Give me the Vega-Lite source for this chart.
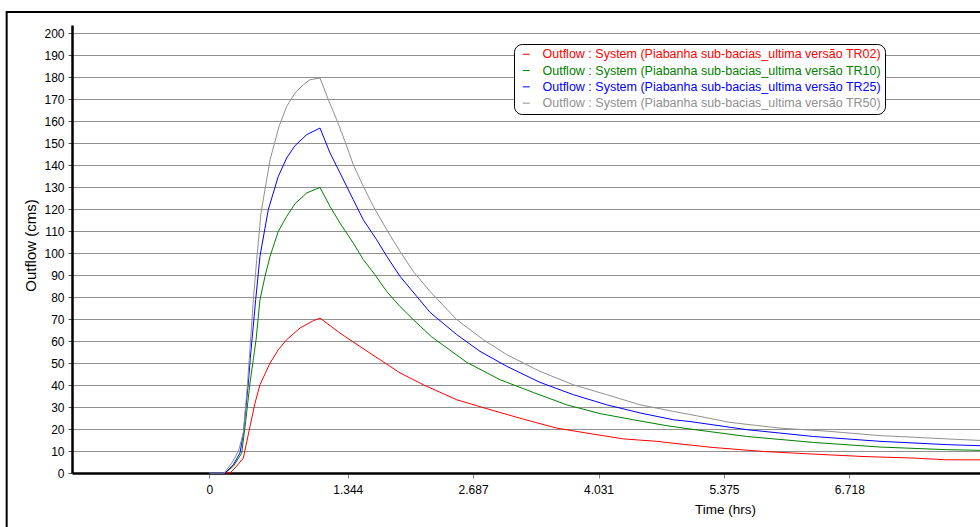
{
  "$schema": "https://vega.github.io/schema/vega-lite/v6.json",
  "width": 908,
  "height": 448,
  "autosize": {"type": "none"},
  "padding": {"left": 72, "top": 25, "right": 0, "bottom": 54},
  "background": "white",
  "config": {
    "font": "Liberation Sans",
    "view": {"stroke": null},
    "axis": {"labelFont": "Liberation Sans", "titleFont": "Liberation Sans", "labelColor": "#000", "titleColor": "#000", "titleFontWeight": "normal"}
  },
  "resolve": {"axis": {"x": "independent", "y": "independent"}},
  "datasets": {
    "flow": [
      {"s": "TR02", "t": -0.139, "q": 0}, {"s": "TR02", "t": 0.083, "q": 0}, {"s": "TR02", "t": 0.137, "q": 2.3}, {"s": "TR02", "t": 0.226, "q": 6.8},
      {"s": "TR02", "t": 0.297, "q": 21.2}, {"s": "TR02", "t": 0.351, "q": 31.8}, {"s": "TR02", "t": 0.404, "q": 40.1}, {"s": "TR02", "t": 0.512, "q": 50},
      {"s": "TR02", "t": 0.6, "q": 56}, {"s": "TR02", "t": 0.69, "q": 60.6}, {"s": "TR02", "t": 0.833, "q": 65.9}, {"s": "TR02", "t": 0.975, "q": 69.2},
      {"s": "TR02", "t": 1.047, "q": 70.4}, {"s": "TR02", "t": 1.261, "q": 63.6}, {"s": "TR02", "t": 1.583, "q": 54.5}, {"s": "TR02", "t": 1.904, "q": 45.5},
      {"s": "TR02", "t": 2.154, "q": 40.1}, {"s": "TR02", "t": 2.512, "q": 33.3}, {"s": "TR02", "t": 2.869, "q": 28.8}, {"s": "TR02", "t": 3.225, "q": 24.5},
      {"s": "TR02", "t": 3.583, "q": 20.4}, {"s": "TR02", "t": 3.94, "q": 17.9}, {"s": "TR02", "t": 4.297, "q": 15.5}, {"s": "TR02", "t": 4.654, "q": 14.4},
      {"s": "TR02", "t": 4.904, "q": 13.2}, {"s": "TR02", "t": 5.258, "q": 11.6}, {"s": "TR02", "t": 5.793, "q": 9.8}, {"s": "TR02", "t": 6.329, "q": 8.6},
      {"s": "TR02", "t": 6.865, "q": 7.5}, {"s": "TR02", "t": 7.4, "q": 6.8}, {"s": "TR02", "t": 7.761, "q": 6.0}, {"s": "TR02", "t": 8.118, "q": 6.0},

      {"s": "TR10", "t": -0.139, "q": 0}, {"s": "TR10", "t": 0.029, "q": 0}, {"s": "TR10", "t": 0.118, "q": 3}, {"s": "TR10", "t": 0.208, "q": 9},
      {"s": "TR10", "t": 0.244, "q": 21}, {"s": "TR10", "t": 0.297, "q": 40.9}, {"s": "TR10", "t": 0.362, "q": 60.6}, {"s": "TR10", "t": 0.404, "q": 78.8},
      {"s": "TR10", "t": 0.458, "q": 89.4}, {"s": "TR10", "t": 0.512, "q": 98.5}, {"s": "TR10", "t": 0.6, "q": 109.8}, {"s": "TR10", "t": 0.69, "q": 116.6},
      {"s": "TR10", "t": 0.779, "q": 122.4}, {"s": "TR10", "t": 0.905, "q": 127.3}, {"s": "TR10", "t": 1.047, "q": 129.8}, {"s": "TR10", "t": 1.154, "q": 121.2},
      {"s": "TR10", "t": 1.261, "q": 113.6}, {"s": "TR10", "t": 1.404, "q": 104.5}, {"s": "TR10", "t": 1.511, "q": 97}, {"s": "TR10", "t": 1.636, "q": 90.1},
      {"s": "TR10", "t": 1.762, "q": 82.5}, {"s": "TR10", "t": 1.904, "q": 75.7}, {"s": "TR10", "t": 2.047, "q": 69.7}, {"s": "TR10", "t": 2.24, "q": 62},
      {"s": "TR10", "t": 2.619, "q": 50.3},
      {"s": "TR10", "t": 2.976, "q": 42.4}, {"s": "TR10", "t": 3.332, "q": 36.6}, {"s": "TR10", "t": 3.69, "q": 31}, {"s": "TR10", "t": 4.047, "q": 27},
      {"s": "TR10", "t": 4.404, "q": 24.2}, {"s": "TR10", "t": 4.762, "q": 21.5}, {"s": "TR10", "t": 5.011, "q": 20}, {"s": "TR10", "t": 5.619, "q": 16.6},
      {"s": "TR10", "t": 6.332, "q": 13.9}, {"s": "TR10", "t": 7.046, "q": 11.8}, {"s": "TR10", "t": 7.761, "q": 10.6}, {"s": "TR10", "t": 8.118, "q": 10.3},

      {"s": "TR25", "t": -0.139, "q": 0}, {"s": "TR25", "t": 0.03, "q": 0}, {"s": "TR25", "t": 0.118, "q": 3.8}, {"s": "TR25", "t": 0.19, "q": 9.1},
      {"s": "TR25", "t": 0.226, "q": 18.2}, {"s": "TR25", "t": 0.279, "q": 40.9}, {"s": "TR25", "t": 0.3, "q": 52}, {"s": "TR25", "t": 0.358, "q": 78.8},
      {"s": "TR25", "t": 0.404, "q": 98.5}, {"s": "TR25", "t": 0.493, "q": 119.7}, {"s": "TR25", "t": 0.6, "q": 134.8}, {"s": "TR25", "t": 0.69, "q": 143.2},
      {"s": "TR25", "t": 0.779, "q": 148.8}, {"s": "TR25", "t": 0.905, "q": 153.8}, {"s": "TR25", "t": 1.047, "q": 156.8}, {"s": "TR25", "t": 1.154, "q": 145.5},
      {"s": "TR25", "t": 1.261, "q": 136.4}, {"s": "TR25", "t": 1.404, "q": 124.2}, {"s": "TR25", "t": 1.511, "q": 115.1}, {"s": "TR25", "t": 1.654, "q": 106},
      {"s": "TR25", "t": 1.762, "q": 98.5}, {"s": "TR25", "t": 1.904, "q": 89.4}, {"s": "TR25", "t": 2.083, "q": 80.3}, {"s": "TR25", "t": 2.226, "q": 73},
      {"s": "TR25", "t": 2.512, "q": 62.9},
      {"s": "TR25", "t": 2.761, "q": 55.3}, {"s": "TR25", "t": 3.048, "q": 48.5}, {"s": "TR25", "t": 3.404, "q": 41.2}, {"s": "TR25", "t": 3.761, "q": 35.6},
      {"s": "TR25", "t": 4.119, "q": 31}, {"s": "TR25", "t": 4.476, "q": 27.3}, {"s": "TR25", "t": 4.832, "q": 24.2}, {"s": "TR25", "t": 5.011, "q": 23.4},
      {"s": "TR25", "t": 5.619, "q": 19.7}, {"s": "TR25", "t": 6.332, "q": 16.6}, {"s": "TR25", "t": 7.046, "q": 14.4}, {"s": "TR25", "t": 7.761, "q": 12.9},
      {"s": "TR25", "t": 8.118, "q": 12.4},

      {"s": "TR50", "t": -0.139, "q": 0}, {"s": "TR50", "t": 0.02, "q": 0}, {"s": "TR50", "t": 0.101, "q": 4.5}, {"s": "TR50", "t": 0.172, "q": 9.8},
      {"s": "TR50", "t": 0.226, "q": 18.2}, {"s": "TR50", "t": 0.271, "q": 40.9}, {"s": "TR50", "t": 0.333, "q": 78.8}, {"s": "TR50", "t": 0.369, "q": 97},
      {"s": "TR50", "t": 0.415, "q": 118.2}, {"s": "TR50", "t": 0.512, "q": 142.4}, {"s": "TR50", "t": 0.608, "q": 157.5}, {"s": "TR50", "t": 0.69, "q": 166.6},
      {"s": "TR50", "t": 0.779, "q": 172.7}, {"s": "TR50", "t": 0.869, "q": 176.5}, {"s": "TR50", "t": 0.94, "q": 178.8}, {"s": "TR50", "t": 1.047, "q": 179.5},
      {"s": "TR50", "t": 1.136, "q": 169.7}, {"s": "TR50", "t": 1.226, "q": 160.6}, {"s": "TR50", "t": 1.315, "q": 150.7}, {"s": "TR50", "t": 1.404, "q": 140.1},
      {"s": "TR50", "t": 1.511, "q": 130.3}, {"s": "TR50", "t": 1.618, "q": 121.2}, {"s": "TR50", "t": 1.762, "q": 110.6}, {"s": "TR50", "t": 1.904, "q": 100.7},
      {"s": "TR50", "t": 2.047, "q": 91.6}, {"s": "TR50", "t": 2.226, "q": 82.5}, {"s": "TR50", "t": 2.512, "q": 69.7}, {"s": "TR50", "t": 2.797, "q": 60.6}, {"s": "TR50", "t": 3.048, "q": 53.8},
      {"s": "TR50", "t": 3.404, "q": 46.2}, {"s": "TR50", "t": 3.761, "q": 40.1}, {"s": "TR50", "t": 4.119, "q": 35.6}, {"s": "TR50", "t": 4.476, "q": 31},
      {"s": "TR50", "t": 4.832, "q": 28}, {"s": "TR50", "t": 5.011, "q": 26.6}, {"s": "TR50", "t": 5.44, "q": 23}, {"s": "TR50", "t": 5.975, "q": 20.4},
      {"s": "TR50", "t": 6.511, "q": 18.9}, {"s": "TR50", "t": 7.046, "q": 17}, {"s": "TR50", "t": 7.761, "q": 15.5}, {"s": "TR50", "t": 8.118, "q": 14.8}
    ]
  },
  "layer": [
    {
      "data": {"name": "flow"},
      "mark": {"type": "line", "strokeWidth": 1, "interpolate": "linear"},
      "encoding": {
        "x": {
          "field": "t", "type": "quantitative",
          "scale": {"domain": [-1.61, 8.118], "nice": false, "zero": false},
          "axis": {
            "title": "Time (hrs)",
            "values": [-0.139, 1.344, 2.687, 4.031, 5.375, 6.718],
            "labelExpr": "datum.value < 0 ? '0' : format(datum.value, '.3f')",
            "grid": false, "labelOverlap": false,
            "domainColor": "#000", "domainWidth": 2.5,
            "tickColor": "#888", "tickSize": 5, "tickWidth": 1,
            "labelFontSize": 12, "labelPadding": 6, "labelFlush": false,
            "titleFontSize": 13.5, "titleX": 653, "titleY": 36, "titleAlign": "center", "titleBaseline": "middle"
          }
        },
        "y": {
          "field": "q", "type": "quantitative",
          "scale": {"domain": [0, 203.6364], "nice": false},
          "axis": {
            "title": "Outflow (cms)",
            "values": [0, 10, 20, 30, 40, 50, 60, 70, 80, 90, 100, 110, 120, 130, 140, 150, 160, 170, 180, 190, 200],
            "tickCount": 21,
            "labelOverlap": false, "labelBound": false,
            "grid": true, "gridColor": "#222", "gridDash": [1, 1], "gridWidth": 1, "gridOpacity": 1,
            "domainColor": "#000", "domainWidth": 2.5,
            "tickColor": "#555", "tickSize": 4, "tickWidth": 1,
            "labelFontSize": 12, "labelPadding": 4,
            "titleFontSize": 15, "titleX": -42, "titleY": 220, "titleAlign": "center", "titleBaseline": "middle", "titleAngle": -90
          }
        },
        "color": {
          "field": "s", "type": "nominal",
          "scale": {"domain": ["TR02", "TR10", "TR25", "TR50"], "range": ["#ff0000", "#008000", "#0000ff", "#909090"]},
          "legend": {
            "title": null,
            "orient": "none", "legendX": 442, "legendY": 19,
            "labelExpr": "'Outflow : System (Piabanha sub-bacias_ultima versão ' + datum.label + ')'",
            "labelColor": {"expr": "scale('color', datum.value)"},
            "labelFont": "Liberation Sans", "labelFontSize": 12.5, "labelLimit": 500,
            "labelOffset": 10,
            "symbolType": "stroke", "symbolSize": 49, "symbolStrokeWidth": 1, "symbolOffset": 2,
            "rowPadding": 3.3,
            "padding": 4,
            "fillColor": "white", "strokeColor": "#000", "cornerRadius": 8
          }
        }
      }
    },
    {
      "data": {"values": [{"frame": 1}]},
      "mark": {"type": "rect", "filled": false, "stroke": "#000", "strokeWidth": 2, "clip": false},
      "encoding": {
        "x": {"datum": -2.31, "type": "quantitative", "axis": null},
        "x2": {"datum": 12},
        "y": {"datum": 209.5, "type": "quantitative", "axis": null},
        "y2": {"datum": -60}
      }
    }
  ]
}
